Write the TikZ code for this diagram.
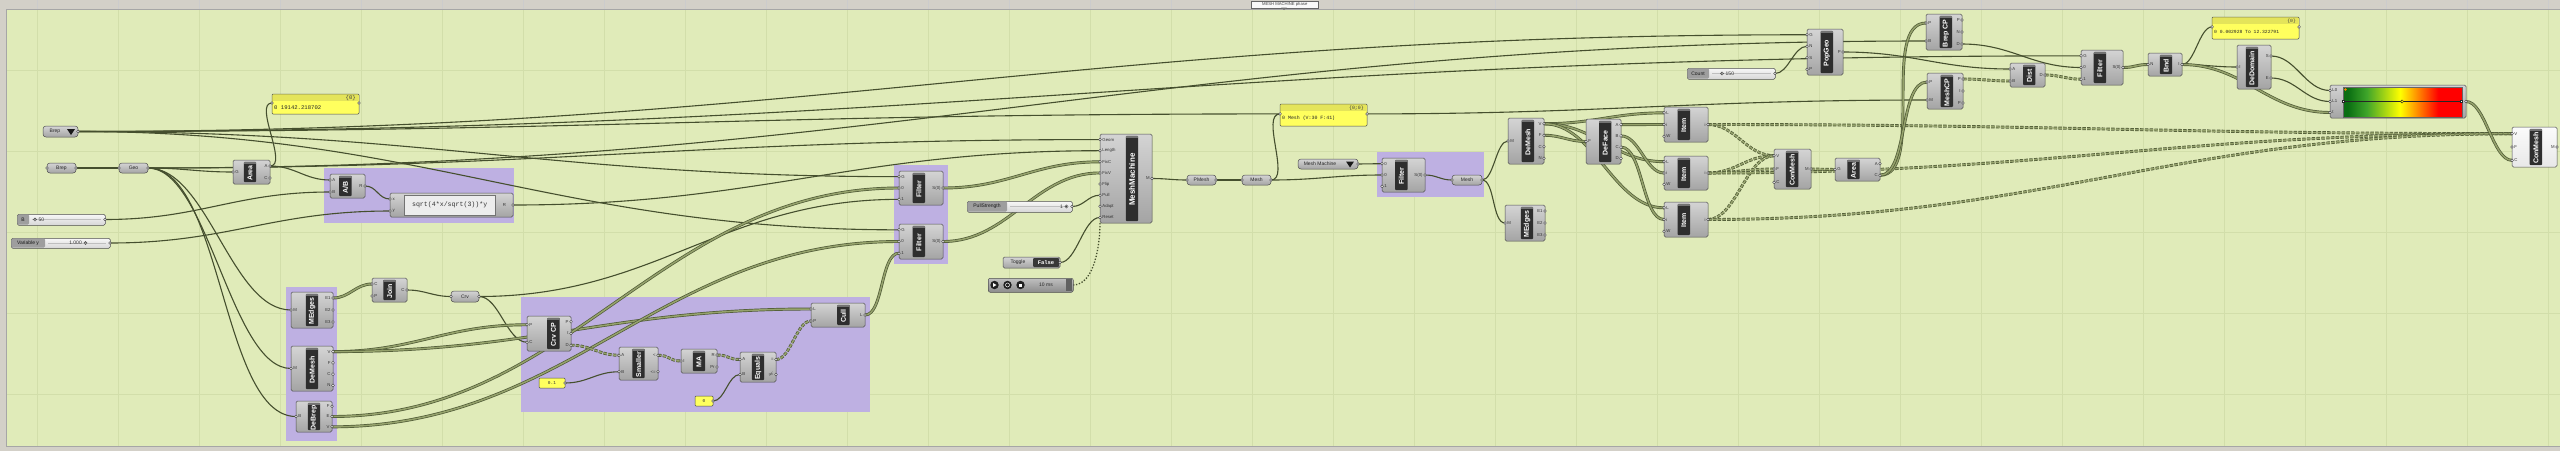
\documentclass[tikz,border=0pt]{standalone}
\usepackage{fontspec}
\setmainfont{Liberation Sans}
\newfontfamily\monof{Liberation Mono}
\usetikzlibrary{calc}
\pgfdeclarelayer{bg}
\pgfdeclarelayer{wires}
\pgfsetlayers{bg,wires,main}
\definecolor{canvas}{HTML}{E0EBB9}
\definecolor{topgray}{HTML}{D3D0C8}
\definecolor{gridc}{HTML}{D2DEAA}
\definecolor{grp}{HTML}{BEB0E2}
\definecolor{bodyt}{HTML}{D4D4D4}
\definecolor{bodyb}{HTML}{A4A4A4}
\definecolor{edge}{HTML}{4E4E4E}
\definecolor{stripc}{HTML}{2E2E2E}
\definecolor{wirec}{HTML}{454F2E}
\definecolor{wired}{HTML}{4E5935}
\definecolor{wirel}{HTML}{95A26C}
\definecolor{panely}{HTML}{FFFF5E}
\definecolor{panelh}{HTML}{E4E45A}
\definecolor{ggreen}{HTML}{0A6E12}
\definecolor{mgreen}{HTML}{3FA52A}
\pgfdeclarehorizontalshading{ghgrad}{100bp}{color(0bp)=(ggreen); color(27bp)=(ggreen); color(35bp)=(mgreen); color(49bp)=(yellow); color(65bp)=(red); color(100bp)=(red)}
\tikzset{
  compbody/.style={draw=edge, line width=0.5pt, rounded corners=1.5pt, top color=bodyt, bottom color=bodyb, inner sep=0pt, outer sep=0pt},
  parambody/.style={draw=edge, line width=0.5pt, rounded corners=3pt, top color=bodyt, bottom color=bodyb, inner sep=0pt, outer sep=0pt, font=\fontsize{5}{6}\selectfont, text=black!85},
  iolab/.style={inner sep=0pt, font=\fontsize{4.3}{5}\selectfont, text=black!80},
  grip/.style={draw=black!80, fill=white!90!gray, line width=0.35pt},
  wire/.style={draw=wirec, line width=1.1pt},
  lwire/.style={draw=wired, line width=0.7pt, double=wirel, double distance=1.5pt},
  twire/.style={lwire, dash pattern=on 3.5pt off 1.3pt},
  titlef/.style={text=white, font=\fontsize{\tsz}{\tsz}\selectfont\bfseries, inner sep=0pt},
  panelbox/.style={draw=edge, line width=0.5pt, fill=panely, rounded corners=1pt, inner sep=0pt, outer sep=0pt}
}
\def\stripfrac{0.5}
\def\tsz{7}
% component: name, x1, y1, x2, y2, title, inputs, outputs
\newcommand{\ghcomp}[8]{%
  \begin{scope}
  \pgfmathsetmacro\gw{#4-#2}%
  \pgfmathsetmacro\ghh{#5-#3}%
  \pgfmathsetmacro\gsx{#2+\stripfrac*\gw}%
  \pgfmathsetmacro\gcy{(#3+#5)/2+1.2}%
  \node[compbody, minimum width=\gw pt, minimum height=\ghh pt, anchor=north west] (#1) at (#2,#3) {};
  \fill[stripc, rounded corners=1pt] ({\gsx-6.2},{#3+1.8}) rectangle ({\gsx+6.2},{#5-1.8});
  \fill[black!55] ({\gsx-6.2},{#3+1.8}) rectangle ({\gsx+6.2},{#3+4.2});
  \node[titlef, rotate=90] at (\gsx,\gcy) {#6};
  \foreach \lab [count=\k] in {#7} {\xdef\nin{\k}}%
  \foreach \lab [count=\k] in {#7} {%
    \pgfmathsetmacro\yy{#3+(\k-0.5)*\ghh/\nin}%
    \coordinate (#1-i\k) at (#2,\yy);
    \node[iolab, anchor=west] at ({#2+2.2},\yy) {\lab};
    \draw[grip] (#2,\yy) circle[radius=1.4pt];
  }%
  \foreach \lab [count=\k] in {#8} {\xdef\nout{\k}}%
  \foreach \lab [count=\k] in {#8} {%
    \pgfmathsetmacro\yy{#3+(\k-0.5)*\ghh/\nout}%
    \coordinate (#1-o\k) at (#4,\yy);
    \node[iolab, anchor=east] at ({#4-2.2},\yy) {\lab};
    \draw[grip] (#4,\yy) circle[radius=1.4pt];
  }%
  \end{scope}}
% parameter: [input grip], name, x1, y1, x2, y2, text
\newcommand{\ghparam}[7][1]{%
  \begin{scope}
  \pgfmathsetmacro\gw{#5-#3}%
  \pgfmathsetmacro\ghh{#6-#4}%
  \pgfmathsetmacro\gcy{(#4+#6)/2}%
  \node[parambody, minimum width=\gw pt, minimum height=\ghh pt, anchor=north west] (#2) at (#3,#4) {#7};
  \coordinate (#2-i) at (#3,\gcy);
  \coordinate (#2-o) at (#5,\gcy);
  \ifnum#1=1 \draw[grip] (#2-i) circle[radius=1.4pt];\fi
  \draw[grip] (#2-o) circle[radius=1.4pt];
  \end{scope}}
% panel: name, x1, y1, x2, y2, header, text, size
\newcommand{\ghpanel}[8]{%
  \begin{scope}
  \pgfmathsetmacro\gw{#4-#2}%
  \pgfmathsetmacro\ghh{#5-#3}%
  \pgfmathsetmacro\gcy{#3+0.45*\ghh}%
  \pgfmathsetmacro\gty{#3+7+(\ghh-7)/2}%
  \node[panelbox, minimum width=\gw pt, minimum height=\ghh pt, anchor=north west] (#1) at (#2,#3) {};
  \fill[panelh] ({#2+0.6},{#3+0.6}) rectangle ({#4-0.6},{#3+7});
  \node[anchor=east, inner sep=0pt, font=\monof\fontsize{#8}{#8}\selectfont, text=black!75] at ({#4-3},{#3+3.8}) {#6};
  \node[anchor=west, inner sep=0pt, font=\monof\fontsize{#8}{#8}\selectfont, text=black!85] at ({#2+2},\gty) {#7};
  \coordinate (#1-i) at (#2,\gcy);
  \coordinate (#1-o) at (#4,\gcy);
  \draw[grip] (#1-i) circle[radius=1.4pt];
  \draw[grip] (#1-o) circle[radius=1.4pt];
  \end{scope}}
% slider: name, x1, y1, x2, y2, label, label width
\newcommand{\ghslider}[7]{%
  \begin{scope}
  \pgfmathsetmacro\gw{#4-#2}%
  \pgfmathsetmacro\ghh{#5-#3}%
  \pgfmathsetmacro\gcy{(#3+#5)/2}%
  \node[draw=edge, line width=0.5pt, rounded corners=1.5pt, top color=white!94!gray, bottom color=black!16, minimum width=\gw pt, minimum height=\ghh pt, anchor=north west, inner sep=0pt] (#1) at (#2,#3) {};
  \fill[black!38, rounded corners=1.2pt] ({#2+0.5},{#3+0.5}) rectangle ({#2+#7},{#5-0.5});
  \node[inner sep=0pt, font=\fontsize{5}{6}\selectfont, text=black!90] at ({#2+#7/2},\gcy) {#6};
  \draw[black!25, line width=0.4pt] ({#2+#7+3},\gcy) -- ({#4-4},\gcy);
  \coordinate (#1-o) at (#4,\gcy);
  \draw[grip] (#1-o) circle[radius=1.4pt];
  \end{scope}}
\newcommand{\ghknob}[1]{\draw[black!75, fill=white, line width=0.5pt] (#1) circle[radius=1.6pt]; \fill[black!75] (#1) circle[radius=0.6pt];}
% small number panel: name, x1, y1, x2, y2, text
\newcommand{\ghnum}[6]{%
  \begin{scope}
  \pgfmathsetmacro\gw{#4-#2}%
  \pgfmathsetmacro\ghh{#5-#3}%
  \pgfmathsetmacro\gcy{(#3+#5)/2}%
  \node[panelbox, minimum width=\gw pt, minimum height=\ghh pt, anchor=north west] (#1) at (#2,#3) {};
  \node[inner sep=0pt, font=\monof\fontsize{4.5}{5}\selectfont, text=black!80] at ({(#2+#4)/2},\gcy) {#6};
  \coordinate (#1-o) at (#4,\gcy);
  \draw[grip] (#1-o) circle[radius=1.4pt];
  \end{scope}}
% wire with horizontal bezier tangents
\newcommand{\ghw}[3][wire]{\begin{pgfonlayer}{wires}\draw[#1] let \p1=(#2), \p2=(#3), \n1={max(0.42*abs(\x2-\x1),0.3*abs(\y2-\y1),12pt)} in (\p1) .. controls +(\n1,0) and +(-\n1,0) .. (\p2);\end{pgfonlayer}}
\begin{document}
\begin{tikzpicture}[x=1pt,y=-1pt]
\useasboundingbox (0,0) rectangle (2560,451);
\begin{pgfonlayer}{bg}
  \fill[topgray] (0,0) rectangle (2560,451);
  \fill[canvas] (6,9) rectangle (2560,446);
  \foreach \gx in {37,118,...,2560} \draw[gridc, line width=0.6pt] (\gx,9) -- (\gx,446);
  \foreach \gy in {70,151,232,313,394} \draw[gridc, line width=0.6pt] (6,\gy) -- (2560,\gy);
  \foreach \gx in {37,118,...,2560} \draw[black!20, line width=0.5pt] (\gx,0) -- (\gx,9);
  \draw[black!35, line width=0.6pt] (2560,9) -- (6,9) -- (6,446) -- (2560,446);
  % groups
  \fill[grp] (324,168) rectangle (514,223);
  \fill[grp] (286,287) rectangle (337,441);
  \fill[grp] (521,297) rectangle (870,412);
  \fill[grp] (894,165) rectangle (948,264);
  \fill[grp] (1377,152) rectangle (1484,197);
\end{pgfonlayer}
% top tab
\node[draw=black!60, fill=white!95!gray, line width=0.4pt, minimum width=67pt, minimum height=7pt, anchor=north west, inner sep=0pt, font=\fontsize{4.2}{5}\selectfont, text=black!75] (tab) at (1251,0.5) {MESH MACHINE phase};
\fill[black!55] (1281,7.5) -- (1287,7.5) -- (1284,10) -- cycle;

% ---------------- left part
\ghparam[0]{brepA}{43}{126}{78}{137}{}
\node[inner sep=0pt, font=\fontsize{5}{6}\selectfont, text=black!85] (brepAt) at (55,131.5) {Brep};
\fill[black!90] (67,129) -- (75,129) -- (71,135) -- cycle;
\ghparam{brepB}{47}{163}{76}{173}{Brep}
\ghparam{geo}{119}{163}{148}{173}{Geo}
\def\stripfrac{0.46}\ghcomp{area}{233}{160}{270}{184}{Area}{G}{A,C}
\ghpanel{panel1}{272}{94}{359}{114}{\{0\}}{0 19142.218702}{5.6}
\def\stripfrac{0.44}\ghcomp{ab}{330}{174}{365}{198}{A/B}{A,B}{R}
% expression
\node[compbody, minimum width=123pt, minimum height=24pt, anchor=north west] (expr) at (390,193) {};
\node[draw=black!55, fill=black!7, line width=0.4pt, minimum width=91pt, minimum height=20pt, anchor=north west, inner sep=0pt, font=\monof\fontsize{6.6}{7}\selectfont, text=black!80] (exprtxt) at (404,195) {sqrt(4*x/sqrt(3))*y};
\coordinate (expr-i1) at (390,199);
\coordinate (expr-i2) at (390,211);
\coordinate (expr-o1) at (513,205);
\node[iolab, anchor=west] at (392.5,199) {x};
\node[iolab, anchor=west] at (392.5,211) {y};
\node[iolab] at (504.5,205) {R};
\draw[grip] (expr-i1) circle[radius=1.4pt];
\draw[grip] (expr-i2) circle[radius=1.4pt];
\draw[grip] (expr-o1) circle[radius=1.4pt];
% sliders
\ghslider{sliderB}{17}{214}{105}{225}{B}{12}
\ghknob{35,219.5}
\node[inner sep=0pt, anchor=west, font=\fontsize{5}{6}\selectfont, text=black!80] at (38.5,219.5) {50};
\ghslider{sliderY}{11}{238}{110}{248}{Variable y}{34}
\node[inner sep=0pt, anchor=east, font=\fontsize{5}{6}\selectfont, text=black!80] at (82,243) {1.000};
\ghknob{85.5,243}

% ---------------- bottom left
\def\stripfrac{0.5}
\ghcomp{medges}{291}{292}{333}{328}{MEdges}{M}{E1,E2,E3}
\ghcomp{demesh}{291}{346}{333}{391}{DeMesh}{M}{V,F,C,N}
\ghcomp{debrep}{296}{401}{332}{432}{DeBrep}{B}{F,E,V}
\ghcomp{join}{372}{278}{407}{302}{Join}{C,P}{C}
\ghparam{crv}{451}{291}{479}{302}{Crv}
\def\stripfrac{0.6}\ghcomp{crvcp}{527}{316}{571}{351}{Crv CP}{P,C}{P,t,D}
\def\stripfrac{0.5}\ghcomp{smaller}{619}{347}{658}{380}{Smaller}{A,B}{<,<=}
\ghcomp{ma}{681}{349}{717}{373}{MA}{I}{R,Pr}
\ghcomp{equals}{740}{352}{776}{382}{Equals}{A,B}{=,\ensuremath{\neq}}
\def\stripfrac{0.6}\ghcomp{cull}{811}{303}{865}{327}{Cull}{L,P}{L}
\ghnum{y01}{539}{378}{565}{388}{0.1}
\ghnum{y0}{695}{396}{713}{406}{0}

% ---------------- filters and MeshMachine
\def\stripfrac{0.45}
\ghcomp{filt1}{899}{171}{943}{205}{Filter}{G,0,1}{S(0)}
\ghcomp{filt2}{899}{224}{943}{259}{Filter}{G,0,1}{S(0)}
\def\stripfrac{0.615}\def\tsz{8}
\ghcomp{mm}{1100}{134}{1152}{223}{MeshMachine}{Geom,Length,FixC,FixV,Flip,Pull,Adapt,Reset}{M}
\def\tsz{7}
\ghslider{pull}{967}{201}{1072}{212}{PullStrength}{40}
\node[inner sep=0pt, anchor=east, font=\fontsize{5}{6}\selectfont, text=black!80] at (1063,206.5) {1};
\ghknob{1066.5,206.5}
% toggle
\node[parambody, rounded corners=1.5pt, minimum width=57pt, minimum height=11pt, anchor=north west] (toggle) at (1003,257) {};
\fill[black!78, rounded corners=1pt] (1033,258) rectangle (1059,267);
\node[inner sep=0pt, font=\fontsize{5}{6}\selectfont, text=black!85] (toggleT) at (1018,262.5) {Toggle};
\node[inner sep=0pt, font=\monof\bfseries\fontsize{5.5}{6}\selectfont, text=white] (toggleF) at (1046,262.5) {False};
\coordinate (toggle-o) at (1060,262.5);
\draw[grip] (toggle-o) circle[radius=1.4pt];
% timer
\node[draw=edge, line width=0.5pt, top color=black!25, bottom color=black!45, rounded corners=2pt, minimum width=85pt, minimum height=14pt, anchor=north west, inner sep=0pt] (timer) at (988,278) {};
\foreach \cx in {994.5,1007.5,1020.5} \fill[black!88] (\cx,285) circle[radius=4.2pt];
\fill[white] (993,283) -- (993,287) -- (996.5,285) -- cycle;
\draw[white, line width=0.5pt] (1007.5,285) circle[radius=2pt];
\fill[white] (1019,283.5) rectangle (1022,286.5);
\node[inner sep=0pt, font=\fontsize{5}{6}\selectfont, text=black!85] (timerT) at (1046,285) {10 ms};
\fill[black!62] (1066,278.6) rectangle (1072.4,291.4);
\coordinate (timer-o) at (1073,285);
\ghparam{pmesh}{1187}{175}{1216}{185}{PMesh}
\ghparam{mesh1}{1242}{175}{1271}{185}{Mesh}
\ghpanel{panel2}{1280}{104}{1367}{126}{\{0;0\}}{0 Mesh (V:30 F:41)}{4.9}
\ghparam[0]{mmdrop}{1298}{159}{1358}{169}{}
\node[inner sep=0pt, font=\fontsize{5}{6}\selectfont, text=black!85] (mmdropT) at (1320,164) {Mesh Machine};
\fill[black!90] (1346,161.5) -- (1354,161.5) -- (1350,167.5) -- cycle;
\def\stripfrac{0.45}
\ghcomp{filt3}{1382}{158}{1425}{192}{Filter}{0,0,1}{S(0)}
\ghparam{mesh2}{1452}{175}{1482}{185}{Mesh}

% ---------------- right part
\def\stripfrac{0.55}
\ghcomp{demesh2}{1508}{118}{1544}{164}{DeMesh}{M}{V,F,C,N}
\ghcomp{medges2}{1505}{205}{1545}{241}{MEdges}{M}{E1,E2,E3}
\ghcomp{deface}{1586}{119}{1621}{164}{DeFace}{F}{A,B,C,D}
\def\stripfrac{0.45}
\ghcomp{item1}{1664}{107}{1708}{142}{Item}{L,i,W}{i}
\ghcomp{item2}{1664}{156}{1708}{190}{Item}{L,i,W}{i}
\ghcomp{item3}{1664}{202}{1708}{237}{Item}{L,i,W}{i}
\def\stripfrac{0.49}
\ghcomp{conmesh1}{1774}{149}{1811}{189}{ConMesh}{V,F,C}{M}
\def\stripfrac{0.41}
\ghcomp{area2}{1835}{158}{1880}{181}{Area}{G}{A,C}
\def\stripfrac{0.55}
\ghcomp{popgeo}{1807}{29}{1843}{75}{PopGeo}{G,N,S,P}{P}
\ghslider{count}{1687}{68}{1775}{79}{Count}{22}
\ghknob{1722,73.5}
\node[inner sep=0pt, anchor=west, font=\fontsize{5}{6}\selectfont, text=black!80] at (1725.5,73.5) {150};
\ghcomp{brepcp}{1926}{14}{1962}{50}{Brep CP}{P,B}{P,N,D}
\ghcomp{meshcp}{1927}{73}{1963}{109}{MeshCP}{P,M}{P,I,P}
\ghcomp{dist}{2010}{63}{2045}{87}{Dist}{A,B}{D}
\def\stripfrac{0.45}
\ghcomp{filt4}{2081}{50}{2123}{85}{Filter}{G,0,1}{S(0)}
\def\stripfrac{0.53}
\ghcomp{bnd}{2148}{53}{2182}{76}{Bnd}{N}{I}
\ghpanel{panel3}{2212}{17}{2299}{39}{\{0\}}{0 0.002928 To 12.322791}{4.7}
\def\stripfrac{0.44}
\ghcomp{dedomain}{2237}{45}{2271}{89}{DeDomain}{I}{S,E}
% gradient
\node[compbody, minimum width=136pt, minimum height=33pt, anchor=north west] (grad) at (2330,85) {};
\shade[shading=ghgrad] (2343,87) rectangle (2462,117);
\draw[black!60, line width=0.4pt] (2343,87) rectangle (2462,117);
\draw[black!85, line width=0.4pt] (2344,101.5) -- (2461,101.5);
\draw[black!85, fill=yellow, line width=0.5pt] (2402,101.5) circle[radius=1.6pt];
\draw[black!85, fill=white, line width=0.4pt] (2342.5,100.5) rectangle (2344.5,102.5);
\draw[black!85, fill=white, line width=0.4pt] (2460.5,100.5) rectangle (2462.5,102.5);
\fill[orange] (2345.5,89.5) circle[radius=1.4pt];
\coordinate (grad-i1) at (2330,90.5);
\coordinate (grad-i2) at (2330,101.5);
\coordinate (grad-i3) at (2330,112.5);
\coordinate (grad-o) at (2466,101.5);
\node[iolab, anchor=west] at (2332.2,90.5) {L0};
\node[iolab, anchor=west] at (2332.2,101.5) {L1};
\node[iolab, anchor=west] at (2332.2,112.5) {t};
\foreach \gp in {grad-i1,grad-i2,grad-i3,grad-o} \draw[grip] (\gp) circle[radius=1.4pt];
\begin{scope}
  \colorlet{bodyt}{white!97!gray}\colorlet{bodyb}{white!82!gray}
  \def\stripfrac{0.53}
  \ghcomp{conmesh2}{2512}{127}{2557}{167}{ConMesh}{V,F,C}{M}
\end{scope}

% ---------------- wires
\ghw{brepB-o}{geo-i}
\ghw{geo-o}{area-i1}
\ghw{geo-o}{medges-i1}
\ghw{geo-o}{demesh-i1}
\ghw{geo-o}{debrep-i1}
\ghw{geo-o}{mm-i1}
\ghw{geo-o}{brepcp-i2}
\ghw{area-o1}{panel1-i}
\ghw{area-o1}{ab-i1}
\ghw{sliderB-o}{ab-i2}
\ghw{ab-o1}{expr-i1}
\ghw{sliderY-o}{expr-i2}
\ghw{expr-o1}{mm-i2}
\ghw{brepA-o}{filt1-i1}
\ghw{brepA-o}{filt2-i1}
\ghw{brepA-o}{popgeo-i1}
\ghw{brepA-o}{panel2-i}
\ghw{brepA-o}{filt4-i1}
\ghw[lwire]{medges-o1}{join-i1}
\ghw{join-o1}{crv-i}
\ghw{crv-o}{crvcp-i2}
\ghw{crv-o}{filt1-i3}
\ghw[lwire]{demesh-o1}{crvcp-i1}
\ghw[lwire]{demesh-o1}{cull-i1}
\ghw[lwire]{debrep-o2}{filt1-i2}
\ghw[lwire]{debrep-o3}{filt2-i2}
\ghw[lwire]{cull-o1}{filt2-i3}
\ghw[twire]{crvcp-o3}{smaller-i1}
\ghw{y01-o}{smaller-i2}
\ghw[twire]{smaller-o1}{ma-i1}
\ghw[twire]{ma-o1}{equals-i1}
\ghw{y0-o}{equals-i2}
\ghw[twire]{equals-o1}{cull-i2}
\ghw[lwire]{filt1-o1}{mm-i3}
\ghw[lwire]{filt2-o1}{mm-i4}
\ghw{pull-o}{mm-i6}
\ghw{toggle-o}{mm-i8}
\begin{pgfonlayer}{wires}
  \draw[wirec, line width=1.3pt, dash pattern=on 1.3pt off 1.7pt] (timer-o) .. controls +(22,0) and +(0,20) .. (mm.south west);
\end{pgfonlayer}
\ghw{mm-o1}{pmesh-i}
\ghw{pmesh-o}{mesh1-i}
\ghw{mesh1-o}{panel2-i}
\ghw{mesh1-o}{filt3-i2}
\ghw{mmdrop-o}{filt3-i1}
\ghw{filt3-o1}{mesh2-i}
\ghw{panel2-o}{meshcp-i2}
\ghw{mesh2-o}{demesh2-i1}
\ghw{mesh2-o}{medges2-i1}
\ghw[lwire]{demesh2-o1}{item1-i1}
\ghw[lwire]{demesh2-o1}{item2-i1}
\ghw[lwire]{demesh2-o1}{item3-i1}
\ghw[lwire]{demesh2-o2}{deface-i1}
\ghw[lwire]{deface-o1}{item1-i2}
\ghw[lwire]{deface-o2}{item2-i2}
\ghw[lwire]{deface-o3}{item3-i2}
\ghw[twire]{item1-o1}{conmesh1-i1}
\ghw[twire]{item2-o1}{conmesh1-i1}
\ghw[twire]{item3-o1}{conmesh1-i1}
\ghw[twire]{item2-o1}{conmesh1-i2}
\ghw[twire]{item1-o1}{conmesh2-i1}
\ghw[twire]{item2-o1}{conmesh2-i1}
\ghw[twire]{item3-o1}{conmesh2-i1}
\ghw[twire]{conmesh1-o1}{area2-i1}
\ghw[lwire]{area2-o2}{brepcp-i1}
\ghw[lwire]{area2-o2}{meshcp-i1}
\ghw{count-o}{popgeo-i2}
\ghw{popgeo-o1}{dist-i1}
\ghw{brepcp-o3}{filt4-i2}
\ghw[twire]{meshcp-o1}{dist-i2}
\ghw[twire]{dist-o1}{filt4-i3}
\ghw[lwire]{filt4-o1}{bnd-i1}
\ghw{bnd-o1}{panel3-i}
\ghw{bnd-o1}{dedomain-i1}
\ghw[lwire]{bnd-o1}{grad-i3}
\ghw{dedomain-o1}{grad-i1}
\ghw{dedomain-o2}{grad-i2}
\ghw[lwire]{grad-o}{conmesh2-i3}
\end{tikzpicture}
\end{document}
